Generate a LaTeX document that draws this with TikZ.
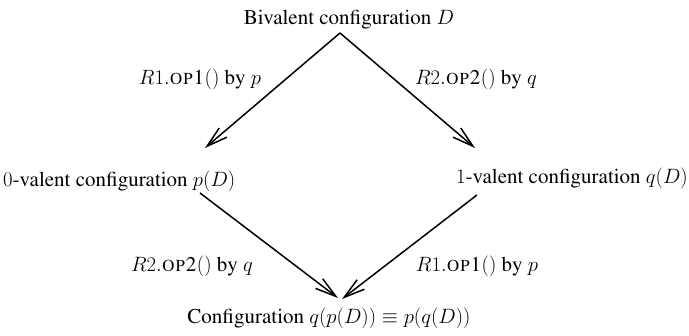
\documentclass[tikz,border=0pt]{standalone}
\usepackage[T1]{fontenc}
\usepackage{times}
\usetikzlibrary{arrows.meta}
\newcommand\opsc[1]{\textsc{#1}}
\begin{document}
\fontsize{21}{25}\selectfont
\begin{tikzpicture}[x=1pt,y=1pt,
  lbl/.style={inner sep=0pt,anchor=base},
  arr/.style={line width=1.5pt,-{Straight Barb[length=21pt,width=12pt,line width=1.5pt]}}]
\useasboundingbox (0,0) rectangle (689,336);
\node[lbl] (top) at (349,311) {Bivalent configuration $D$};
\node[lbl,anchor=base west] (zero) at (3,149) {$0$-valent configuration $p(D)$};
\node[lbl,anchor=base east] (one) at (688,152) {$1$-valent configuration $q(D)$};
\node[lbl] (bot) at (329,12) {Configuration $q(p(D))\equiv p(q(D))$};
\node[lbl] (l1) at (200,251) {$R1.$\opsc{op1}$()$ by $p$};
\node[lbl] (l2) at (476,251) {$R2.$\opsc{op2}$()$ by $q$};
\node[lbl] (l3) at (192,64) {$R2.$\opsc{op2}$()$ by $q$};
\node[lbl] (l4) at (477,64) {$R1.$\opsc{op1}$()$ by $p$};
\coordinate (apex) at (340,303);
\coordinate (zin) at (205,188);
\coordinate (oin) at (475,188);
\coordinate (zout) at (200,143);
\coordinate (oout) at (477,141);
\coordinate (bin1) at (338,38);
\coordinate (bin2) at (342,37);
\draw[arr] (apex) -- (zin);
\draw[arr] (apex) -- (oin);
\draw[arr] (zout) -- (bin1);
\draw[arr] (oout) -- (bin2);
\end{tikzpicture}
\end{document}
